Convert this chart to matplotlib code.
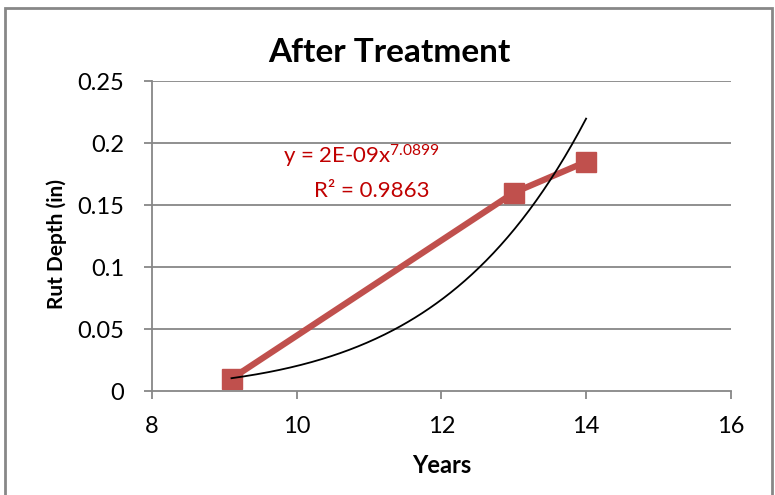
import numpy as np
import matplotlib.pyplot as plt
from matplotlib.patches import Rectangle

plt.rcParams['font.family'] = ['Lato', 'DejaVu Sans']
plt.rcParams['mathtext.fontset'] = 'custom'
plt.rcParams['mathtext.rm'] = 'Lato'
plt.rcParams['mathtext.default'] = 'regular'

# data
years = [9.1, 13, 14]
rut_depth = [0.01, 0.16, 0.185]
eq_text = 'y = 2E-09x$^{7.0899}$'
r2_text = 'R² = 0.9863'

x_ticks = [8, 10, 12, 14, 16]
y_ticks = [0, 0.05, 0.1, 0.15, 0.2, 0.25]
y_tick_labels = ['0', '0.05', '0.1', '0.15', '0.2', '0.25']

# power trendline, fitted like excel does (log-log least squares)
b, ln_a = np.polyfit(np.log(years), np.log(rut_depth), 1)
xt = np.linspace(min(years), max(years), 200)
yt = np.exp(ln_a) * xt ** b

fig = plt.figure(figsize=(7.75, 4.95), dpi=100)
ax = fig.add_axes([0.196, 0.210, 0.747, 0.626])

grid_col = '#878787'
ax.set_xlim(8, 16)
ax.set_ylim(0, 0.25)
ax.set_xticks(x_ticks)
ax.set_yticks(y_ticks)
ax.set_yticklabels(y_tick_labels)
for yv in y_ticks[1:]:
    ax.axhline(yv, color=grid_col, lw=1.3, zorder=0)

ax.plot(years, rut_depth, color='#C0504D', lw=4.5, marker='s', ms=14,
        zorder=2, solid_capstyle='butt')
ax.plot(xt, yt, color='black', lw=1.3, zorder=3)

for s in ['top', 'right']:
    ax.spines[s].set_visible(False)
for s in ['left', 'bottom']:
    ax.spines[s].set_color(grid_col)
    ax.spines[s].set_linewidth(1.3)
ax.tick_params(axis='both', colors=grid_col, length=6, width=1.3,
               labelsize=17, labelcolor='black')
ax.tick_params(axis='x', pad=12)
ax.tick_params(axis='y', pad=14)

ax.set_xlabel('Years', fontsize=17, fontweight='bold', labelpad=12)
ax.set_ylabel('Rut Depth (in)', fontsize=15, fontweight='bold', va='center')
ax.yaxis.set_label_coords(-0.164, 0.475)
fig.text(0.503, 0.893, 'After Treatment', fontsize=24, fontweight='bold',
         ha='center', va='center')

ax.text(0.362, 0.756, eq_text, transform=ax.transAxes, color='#C00000',
        fontsize=16, ha='center', va='center')
ax.text(0.379, 0.646, r2_text, transform=ax.transAxes, color='#C00000',
        fontsize=16, ha='center', va='center')

# outer chart border
fig.patches.append(Rectangle((5 / 775, -0.05), 767 / 775, 1.05 - 8 / 495,
                             transform=fig.transFigure, fill=False,
                             edgecolor=grid_col, lw=2))

fig.savefig('out.png', dpi=100)
